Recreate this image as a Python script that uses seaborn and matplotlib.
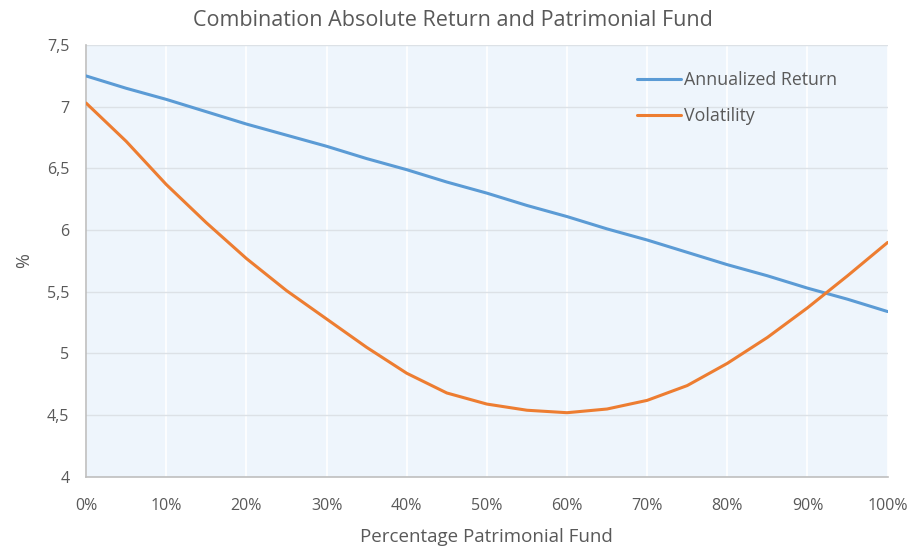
import numpy as np
import pandas as pd
import seaborn as sns
import matplotlib
matplotlib.use('Agg')
import matplotlib.pyplot as plt
from matplotlib.ticker import FuncFormatter

# values, 5% steps
share_patrimonial = [0, 5, 10, 15, 20, 25, 30, 35, 40, 45, 50,
                     55, 60, 65, 70, 75, 80, 85, 90, 95, 100]
annualized_return = [7.25, 7.15, 7.06, 6.96, 6.86, 6.77, 6.68, 6.58, 6.49, 6.39, 6.30,
                     6.20, 6.11, 6.01, 5.92, 5.82, 5.72, 5.63, 5.53, 5.44, 5.34]
volatility = [7.03, 6.72, 6.37, 6.06, 5.77, 5.51, 5.28, 5.05, 4.84, 4.68, 4.59,
              4.54, 4.52, 4.55, 4.62, 4.74, 4.92, 5.13, 5.37, 5.63, 5.90]
series_names = ['Annualized Return', 'Volatility']
series_colors = ['#5B9BD5', '#ED7D31']

df = pd.DataFrame({
    'share': share_patrimonial * 2,
    'value': annualized_return + volatility,
    'series': [series_names[0]] * len(share_patrimonial) + [series_names[1]] * len(share_patrimonial),
})

sns.set_style('white')
plt.rcParams['font.family'] = ['Open Sans', 'DejaVu Sans']
grey_text = '#595959'

fig = plt.figure(figsize=(9.16, 5.5), dpi=100)
ax = fig.add_axes([0.094, 0.133, 0.875, 0.785])
ax.set_facecolor('#EEF5FC')

sns.lineplot(data=df, x='share', y='value', hue='series', palette=series_colors,
             linewidth=2.2, ax=ax, zorder=3)

ax.set_xlim(0, 100)
ax.set_ylim(4, 7.5)
ax.set_xticks(np.arange(0, 101, 10))
ax.set_yticks(np.arange(4, 7.51, 0.5))
ax.xaxis.set_major_formatter(FuncFormatter(lambda v, p: f'{v:.0f}%'))
ax.yaxis.set_major_formatter(FuncFormatter(lambda v, p: f'{v:g}'.replace('.', ',')))
ax.tick_params(axis='both', length=0, labelsize=11.5, labelcolor=grey_text)
ax.tick_params(axis='x', pad=15)
ax.tick_params(axis='y', pad=12)

ax.grid(axis='y', color='#DCE1E6', linewidth=1.0, zorder=0)
ax.grid(axis='x', color='#FFFFFF', linewidth=1.2, zorder=0)
ax.set_axisbelow(True)

for side in ['top', 'right']:
    ax.spines[side].set_visible(False)
for side in ['left', 'bottom']:
    ax.spines[side].set_color('#BFBFBF')
    ax.spines[side].set_linewidth(1.2)

ax.set_xlabel('Percentage Patrimonial Fund', fontsize=13.5, color=grey_text, labelpad=10)
ax.set_ylabel('%', fontsize=13, color=grey_text, labelpad=10)
# Excel centres the title on the whole chart, not the plot area
fig.text(0.495, 0.962, 'Combination Absolute Return and Patrimonial Fund',
         fontsize=15.5, color=grey_text, ha='center', va='center')

leg = ax.legend(loc='upper left', bbox_to_anchor=(0.687, 0.94), frameon=False,
                fontsize=12.8, handlelength=2.5, handletextpad=0.15, labelspacing=1.0,
                borderaxespad=0, borderpad=0)
for t in leg.get_texts():
    t.set_color(grey_text)

fig.savefig('out.png', dpi=100)
